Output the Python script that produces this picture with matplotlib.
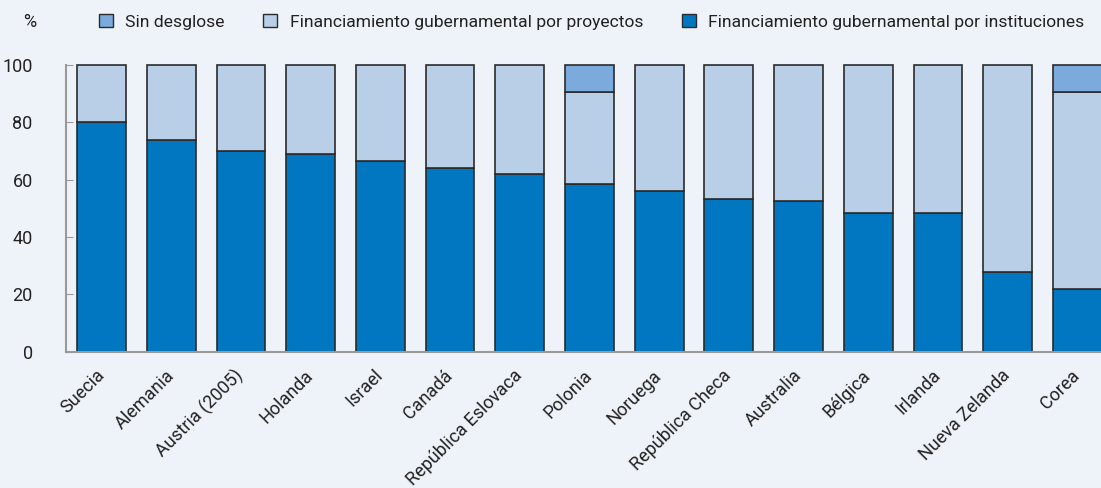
import matplotlib.pyplot as plt
from matplotlib.patches import Patch
import numpy as np

plt.rcParams['font.family'] = ['Roboto', 'DejaVu Sans']

paises = ['Suecia', 'Alemania', 'Austria (2005)', 'Holanda', 'Israel', 'Canadá',
          'República Eslovaca', 'Polonia', 'Noruega', 'República Checa', 'Australia',
          'Bélgica', 'Irlanda', 'Nueva Zelanda', 'Corea']
instituciones = [80, 74, 70, 69, 66.5, 64, 62, 58.5, 56, 53.3, 52.6, 48.5, 48.5, 28, 22]
proyectos = [20, 26, 30, 31, 33.5, 36, 38, 32, 44, 46.7, 47.4, 51.5, 51.5, 72, 68.5]
sin_desglose = [0, 0, 0, 0, 0, 0, 0, 9.5, 0, 0, 0, 0, 0, 0, 9.5]

fondo = '#EEF3F9'
c_inst = '#0077C0'
c_proy = '#B9CFE8'
c_sin = '#7AABDC'
borde = '#2b2b2b'
texto = '#222222'

fig = plt.figure(figsize=(11.01, 4.88), dpi=100, facecolor=fondo)
ax = fig.add_axes([0.06, 0.279, 0.94, 0.588], facecolor=fondo)

x = np.arange(len(paises))
inst = np.array(instituciones)
proy = np.array(proyectos)
sin = np.array(sin_desglose)
w = 0.7
ax.bar(x, inst, w, color=c_inst, edgecolor=borde, linewidth=1.2, clip_on=False)
ax.bar(x, proy, w, bottom=inst, color=c_proy, edgecolor=borde, linewidth=1.2, clip_on=False)
b3 = ax.bar(x, sin, w, bottom=inst + proy, color=c_sin, edgecolor=borde, linewidth=1.2,
            clip_on=False)
# las barras sin desglose en cero no deben dejar borde
for r, v in zip(b3, sin):
    if v == 0:
        r.set_visible(False)

ax.set_xlim(-0.51, 14.34)
ax.set_ylim(0, 100)
ax.set_yticks([0, 20, 40, 60, 80, 100])
ax.tick_params(axis='y', direction='in', length=5, color='#999999', labelsize=13,
               labelcolor=texto, pad=24)
ax.set_xticks(x)
ax.set_xticklabels(paises, rotation=45, ha='right', va='center', rotation_mode='anchor',
                   fontsize=13, color=texto)
ax.tick_params(axis='x', length=0, pad=15)

for s in ['top', 'right']:
    ax.spines[s].set_visible(False)
for s in ['left', 'bottom']:
    ax.spines[s].set_color('#999999')
    ax.spines[s].set_linewidth(1.5)

fig.text(0.027, 0.955, '%', fontsize=13, color=texto, ha='center', va='center')
handles = [Patch(facecolor=c_sin, edgecolor=borde, label='Sin desglose'),
           Patch(facecolor=c_proy, edgecolor=borde, label='Financiamiento gubernamental por proyectos'),
           Patch(facecolor=c_inst, edgecolor=borde, label='Financiamiento gubernamental por instituciones')]
fig.legend(handles=handles, loc='center left', bbox_to_anchor=(0.09, 0.955),
           ncol=3, frameon=False, fontsize=12.6, handlelength=0.8, handleheight=0.8,
           handletextpad=0.7, columnspacing=2.2, labelcolor=texto,
           borderaxespad=0, borderpad=0)

fig.savefig('out.png', dpi=100, facecolor=fondo)
